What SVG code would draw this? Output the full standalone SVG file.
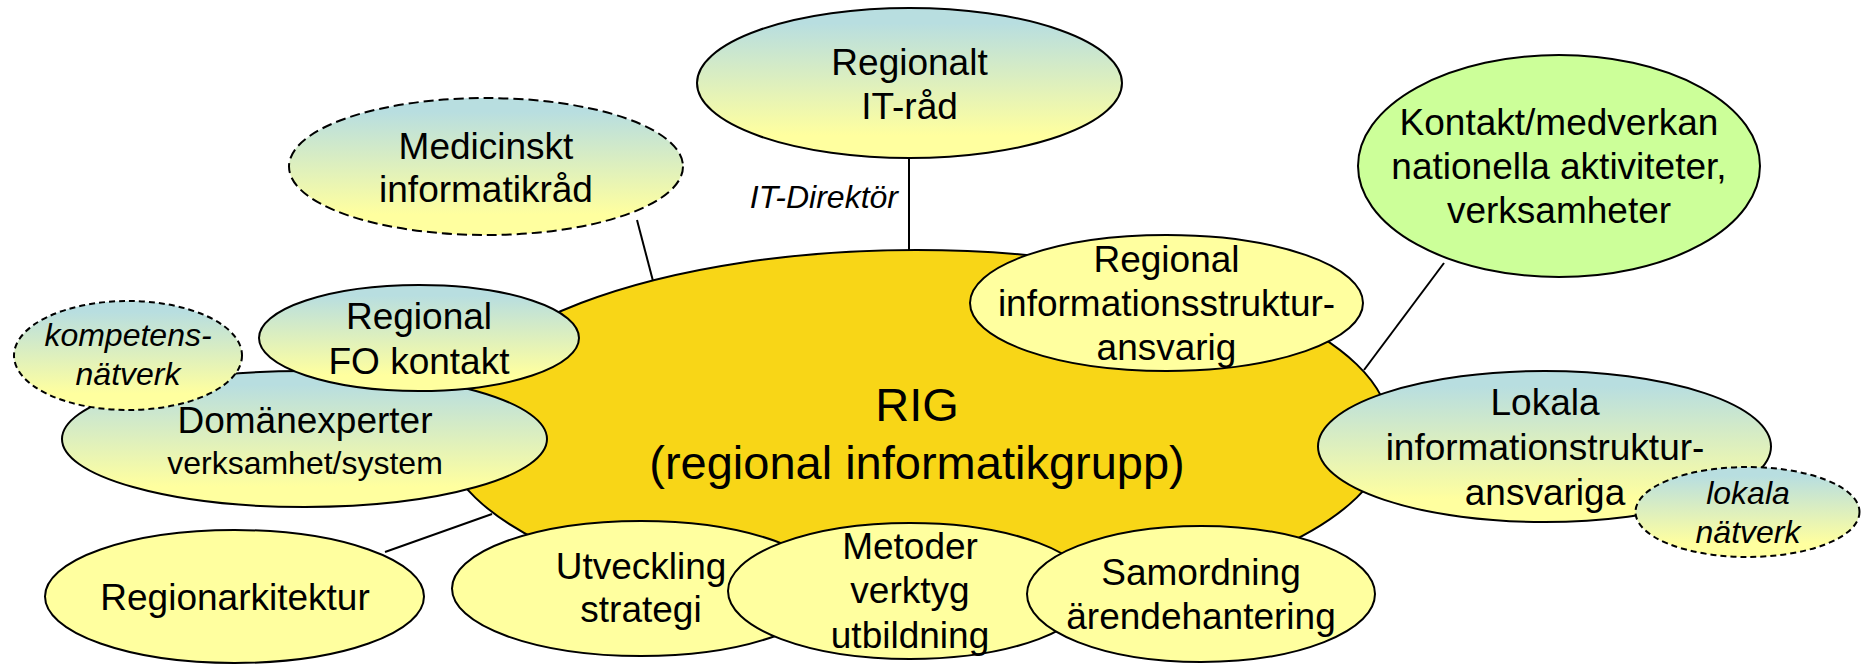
<svg xmlns="http://www.w3.org/2000/svg" width="1861" height="664" viewBox="0 0 1861 664">
<style>
text{font-family:"Liberation Sans",Arial,sans-serif;fill:#000;text-anchor:middle}
.t{font-size:37px}
.s{font-size:32px}
.i{font-style:italic}
.big{font-size:47px}
.n{stroke:#000;stroke-width:2}
.d{stroke-dasharray:10 5}
.ds{stroke-dasharray:6 4}
.g{fill:url(#grad)}
.y{fill:#FFFF9F}
.c{stroke:#000;stroke-width:2;fill:none}
</style>
<defs>
<linearGradient id="grad" x1="0" y1="0" x2="0" y2="1">
<stop offset="0.1" stop-color="#B8DEE0"/>
<stop offset="0.85" stop-color="#FFFF9F"/>
</linearGradient>
</defs>
<rect width="1861" height="664" fill="#fff"/>
<g id="connectors">
<line class="c" x1="909" y1="158" x2="909" y2="251"/>
<line class="c" x1="637" y1="220" x2="653" y2="281"/>
<line class="c" x1="1444" y1="263" x2="1364" y2="370"/>
<line class="c" x1="385" y1="552" x2="492" y2="514"/>
</g>
<g id="rig">
<ellipse class="n" cx="916" cy="431" rx="474" ry="181" fill="#F8D617"/>
<text class="big" x="917" y="421">RIG</text>
<text class="big" x="917" y="479">(regional informatikgrupp)</text>
</g>
<g id="it-direktor-label">
<text class="s i" x="898" y="208" style="text-anchor:end">IT-Direktör</text>
</g>
<g id="regionalt-it-rad">
<ellipse class="n g" cx="909.5" cy="83" rx="212.5" ry="75"/>
<text class="t" x="909.5" y="75">Regionalt</text>
<text class="t" x="909.5" y="119">IT-råd</text>
</g>
<g id="medicinskt">
<ellipse class="n d g" cx="486" cy="166.5" rx="197" ry="68.5"/>
<text class="t" x="486" y="159">Medicinskt</text>
<text class="t" x="486" y="202">informatikråd</text>
</g>
<g id="kontakt">
<ellipse class="n" cx="1559" cy="166" rx="201" ry="111" fill="#CCFF99"/>
<text class="t" x="1559" y="135">Kontakt/medverkan</text>
<text class="t" x="1559" y="179">nationella aktiviteter,</text>
<text class="t" x="1559" y="223">verksamheter</text>
</g>
<g id="regional-info">
<ellipse class="n y" cx="1166.5" cy="303" rx="196.5" ry="68"/>
<text class="t" x="1166.5" y="272">Regional</text>
<text class="t" x="1166.5" y="316">informationsstruktur-</text>
<text class="t" x="1166.5" y="360">ansvarig</text>
</g>
<g id="domanexperter">
<ellipse class="n g" cx="304.5" cy="439" rx="242.5" ry="68"/>
<text class="t" x="305" y="433">Domänexperter</text>
<text class="s" x="305" y="474">verksamhet/system</text>
</g>
<g id="regional-fo">
<ellipse class="n g" cx="419" cy="338" rx="160" ry="53"/>
<text class="t" x="419" y="329">Regional</text>
<text class="t" x="419" y="374">FO kontakt</text>
</g>
<g id="kompetens">
<ellipse class="n ds g" cx="128" cy="355.5" rx="114" ry="54.5"/>
<text class="s i" x="128" y="346">kompetens-</text>
<text class="s i" x="128" y="385">nätverk</text>
</g>
<g id="lokala">
<ellipse class="n g" cx="1544.5" cy="446.5" rx="226.5" ry="75.5"/>
<text class="t" x="1545" y="415">Lokala</text>
<text class="t" x="1545" y="460">informationstruktur-</text>
<text class="t" x="1545" y="505">ansvariga</text>
</g>
<g id="lokala-natverk">
<ellipse class="n ds g" cx="1747.5" cy="512" rx="112" ry="45"/>
<text class="s i" x="1748" y="504">lokala</text>
<text class="s i" x="1748" y="543">nätverk</text>
</g>
<g id="regionarkitektur">
<ellipse class="n y" cx="234.5" cy="596.5" rx="189.5" ry="66.5"/>
<text class="t" x="235" y="610">Regionarkitektur</text>
</g>
<g id="utveckling">
<ellipse class="n y" cx="641" cy="588.5" rx="189" ry="67.5"/>
<text class="t" x="641" y="579">Utveckling</text>
<text class="t" x="641" y="622">strategi</text>
</g>
<g id="metoder">
<ellipse class="n y" cx="910" cy="591" rx="182" ry="68"/>
<text class="t" x="910" y="559">Metoder</text>
<text class="t" x="910" y="603">verktyg</text>
<text class="t" x="910" y="648">utbildning</text>
</g>
<g id="samordning">
<ellipse class="n y" cx="1201" cy="594" rx="174" ry="68"/>
<text class="t" x="1201" y="585">Samordning</text>
<text class="t" x="1201" y="629">ärendehantering</text>
</g>
</svg>
